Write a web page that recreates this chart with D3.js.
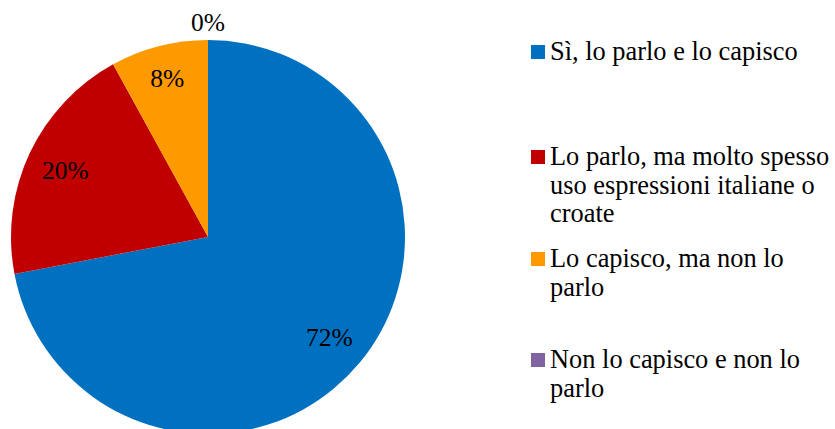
<!DOCTYPE html>
<html><head><meta charset="utf-8">
<script src="https://cdn.jsdelivr.net/npm/d3@7"></script>
<style>body{margin:0;background:#fff}svg{display:block}
text{font-family:"Liberation Serif","Times New Roman",Times,"DejaVu Serif",serif}</style>
</head><body><svg id="c" width="835" height="429"></svg>
<script>
const categories = [
  ["Sì, lo parlo e lo capisco"],
  ["Lo parlo, ma molto spesso", "uso espressioni italiane o", "croate"],
  ["Lo capisco, ma non lo", "parlo"],
  ["Non lo capisco e non lo", "parlo"]
];
const values = [72, 20, 8, 0];
const labels = ["72%", "20%", "8%", "0%"];
const colors = ["#0070C0", "#C00000", "#FF9900", "#8064A2"];

const svg = d3.select("#c");
const cx = 208, cy = 237, r = 197;
const g = svg.append("g").attr("transform", `translate(${cx},${cy})`);
const pie = d3.pie().sort(null).value(d => d)(values);
const arc = d3.arc().innerRadius(0).outerRadius(r);
g.selectAll("path").data(pie).join("path")
  .attr("d", arc).attr("fill", (d, i) => colors[i]);

g.selectAll("text.lab").data(pie).join("text")
  .attr("class", "lab")
  .attr("transform", d => {
    const rr = d.value === 0 ? r * 1.09 : (d.endAngle - d.startAngle < 0.6 ? r * 0.83 : r * 0.8);
    const a = (d.startAngle + d.endAngle) / 2;
    return `translate(${Math.sin(a) * rr},${-Math.cos(a) * rr})`;
  })
  .attr("text-anchor", "middle").attr("dy", "0.34em")
  .attr("font-size", 25.5).attr("fill", "#000")
  .text((d, i) => labels[i]);

const legY = [60, 165, 267, 368];
const lineH = 28.5;
const lg = svg.append("g");
categories.forEach((lines, i) => {
  lg.append("rect").attr("x", 531).attr("y", legY[i] - 15).attr("width", 14).attr("height", 14)
    .attr("fill", colors[i]);
  const t = lg.append("text").attr("x", 550).attr("y", legY[i])
    .attr("font-size", 26.4).attr("fill", "#000");
  lines.forEach((s, j) => t.append("tspan").attr("x", 550).attr("y", legY[i] + j * lineH).text(s));
});
</script></body></html>
